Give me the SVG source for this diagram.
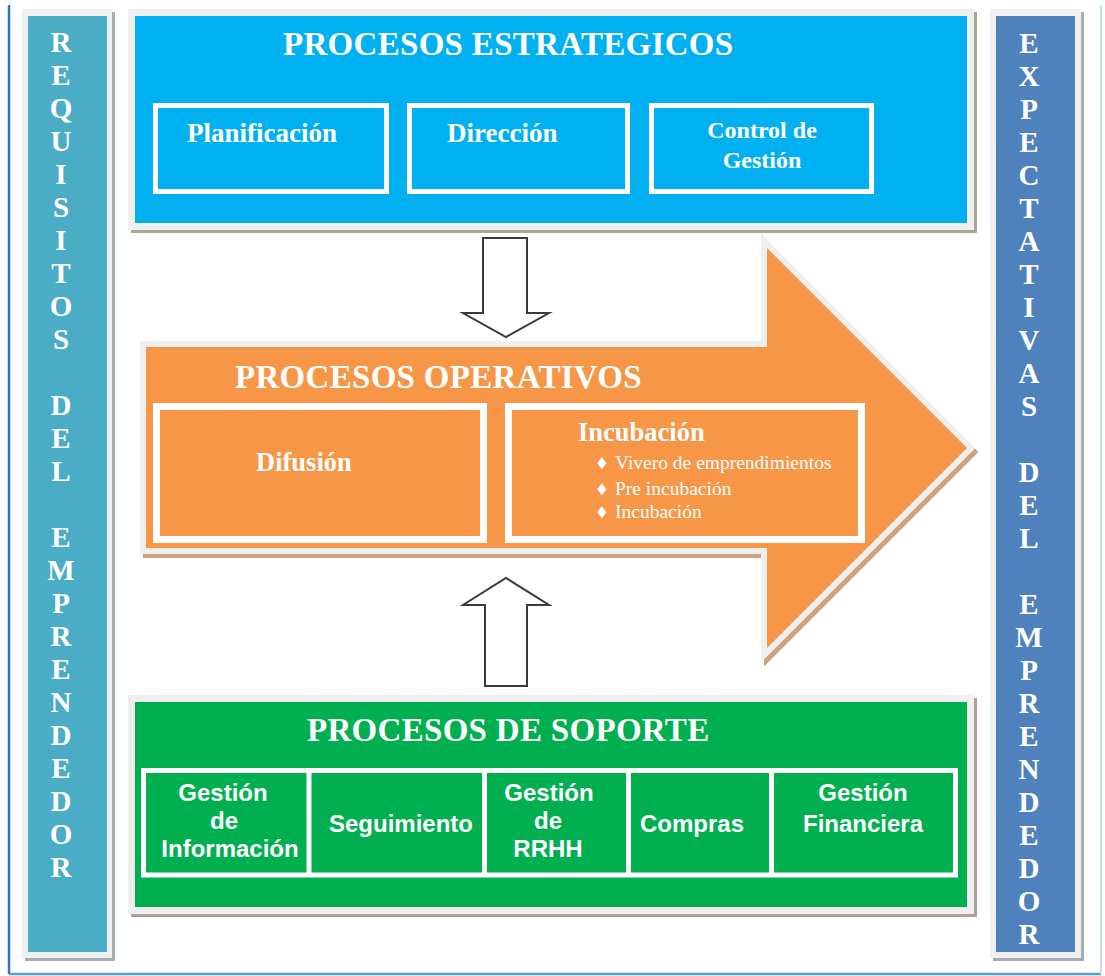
<svg xmlns="http://www.w3.org/2000/svg" width="1105" height="976" viewBox="0 0 1105 976">
<style>
.frame{fill:#EFEFEF}
.title{font-family:"Liberation Serif","Times New Roman",serif;font-weight:bold;font-size:33px;fill:#FFFFFF;letter-spacing:0.3px}
.sub{font-family:"Liberation Serif","Times New Roman",serif;font-weight:bold;font-size:27px;fill:#FFFFFF}
.sub2{font-family:"Liberation Serif","Times New Roman",serif;font-weight:bold;font-size:24px;fill:#FFFFFF;text-anchor:middle}
.vert{font-family:"Liberation Serif","Times New Roman",serif;font-weight:bold;font-size:29px;fill:#FFFFFF;text-anchor:middle}
.bul{font-family:"Liberation Serif","Times New Roman",serif;font-size:19.5px;fill:#FFFFFF}
.dia{font-family:"DejaVu Sans",sans-serif;font-size:16px;fill:#FFFFFF;text-anchor:middle}
.cell{font-family:"Liberation Sans",Arial,sans-serif;font-weight:bold;font-size:24px;fill:#FFFFFF;text-anchor:middle}
.box{fill:none;stroke:#FFFFFF}
.blk{fill:#FFFFFF;stroke:#3A3A3A;stroke-width:2;stroke-linejoin:miter}
</style>
<rect x="0" y="0" width="1105" height="976" fill="#FFFFFF"/>
<g id="page-border">
<line x1="9" y1="5" x2="9" y2="974" stroke="#2E75B6" stroke-width="2.5"/>
<line x1="9" y1="974" x2="1101" y2="974" stroke="#5B9BD5" stroke-width="2.5"/>
<line x1="1101" y1="5" x2="1101" y2="974" stroke="#C9DCF2" stroke-width="2"/>
</g>
<g id="requisitos">
<rect x="25" y="12" width="90" height="949" fill="#A3ADB5"/>
<rect class="frame" x="22" y="9" width="90" height="949"/>
<rect x="28" y="16" width="79" height="936" fill="#4BACC6"/>
<text class="vert"><tspan x="61" y="52">R</tspan><tspan x="61" dy="33">E</tspan><tspan x="61" dy="33">Q</tspan><tspan x="61" dy="33">U</tspan><tspan x="61" dy="33">I</tspan><tspan x="61" dy="33">S</tspan><tspan x="61" dy="33">I</tspan><tspan x="61" dy="33">T</tspan><tspan x="61" dy="33">O</tspan><tspan x="61" dy="33">S</tspan><tspan x="61" dy="66">D</tspan><tspan x="61" dy="33">E</tspan><tspan x="61" dy="33">L</tspan><tspan x="61" dy="66">E</tspan><tspan x="61" dy="33">M</tspan><tspan x="61" dy="33">P</tspan><tspan x="61" dy="33">R</tspan><tspan x="61" dy="33">E</tspan><tspan x="61" dy="33">N</tspan><tspan x="61" dy="33">D</tspan><tspan x="61" dy="33">E</tspan><tspan x="61" dy="33">D</tspan><tspan x="61" dy="33">O</tspan><tspan x="61" dy="33">R</tspan></text>
</g>
<g id="expectativas">
<rect x="993" y="12" width="91" height="949" fill="#A3ADB5"/>
<rect class="frame" x="990" y="9" width="91" height="949"/>
<rect x="996" y="16" width="79" height="936" fill="#4F81BD"/>
<text class="vert"><tspan x="1029" y="53">E</tspan><tspan x="1029" dy="33">X</tspan><tspan x="1029" dy="33">P</tspan><tspan x="1029" dy="33">E</tspan><tspan x="1029" dy="33">C</tspan><tspan x="1029" dy="33">T</tspan><tspan x="1029" dy="33">A</tspan><tspan x="1029" dy="33">T</tspan><tspan x="1029" dy="33">I</tspan><tspan x="1029" dy="33">V</tspan><tspan x="1029" dy="33">A</tspan><tspan x="1029" dy="33">S</tspan><tspan x="1029" dy="66">D</tspan><tspan x="1029" dy="33">E</tspan><tspan x="1029" dy="33">L</tspan><tspan x="1029" dy="66">E</tspan><tspan x="1029" dy="33">M</tspan><tspan x="1029" dy="33">P</tspan><tspan x="1029" dy="33">R</tspan><tspan x="1029" dy="33">E</tspan><tspan x="1029" dy="33">N</tspan><tspan x="1029" dy="33">D</tspan><tspan x="1029" dy="33">E</tspan><tspan x="1029" dy="33">D</tspan><tspan x="1029" dy="33">O</tspan><tspan x="1029" dy="33">R</tspan></text>
</g>
<g id="estrategicos">
<rect x="131" y="12" width="846" height="221" fill="#A3AB8E"/>
<rect class="frame" x="128" y="9" width="846" height="221"/>
<rect x="135" y="16" width="832" height="207" fill="#00B0F0"/>
<text class="title" x="283" y="55">PROCESOS ESTRATEGICOS</text>
<g id="planificacion"><rect class="box" x="155.5" y="105.5" width="231" height="86" stroke-width="5"/><text class="sub" x="187" y="142">Planificación</text></g>
<g id="direccion"><rect class="box" x="409.5" y="105.5" width="218" height="86" stroke-width="5"/><text class="sub" x="447" y="142">Dirección</text></g>
<g id="control"><rect class="box" x="651.5" y="105.5" width="220" height="86" stroke-width="5"/><text class="sub2" x="762" y="138">Control de</text><text class="sub2" x="762" y="168">Gestión</text></g>
</g>
<g id="operativos">
<polygon points="146,347 767,347 767,248 967,448 767,648 767,548 146,548" transform="translate(3,4)" fill="#CFA27E" stroke="#CFA27E" stroke-width="12"/>
<polygon points="146,347 767,347 767,248 967,448 767,648 767,548 146,548" fill="#EFEFEF" stroke="#EFEFEF" stroke-width="12"/>
<polygon points="146,347 767,347 767,248 967,448 767,648 767,548 146,548" fill="#F79646"/>
<text class="title" x="235" y="388">PROCESOS OPERATIVOS</text>
<g id="difusion"><rect class="box" x="156.5" y="406.5" width="327" height="133" stroke-width="7"/><text class="sub" x="256" y="471" style="font-size:26.5px">Difusión</text></g>
<g id="incubacion"><rect class="box" x="508.5" y="406.5" width="353" height="133" stroke-width="7"/>
<text class="sub" x="578" y="441" style="font-size:26.5px">Incubación</text>
<text class="dia" x="602" y="469">♦</text><text class="bul" x="615" y="469">Vivero de emprendimientos</text>
<text class="dia" x="602" y="495">♦</text><text class="bul" x="615" y="495">Pre incubación</text>
<text class="dia" x="602" y="518">♦</text><text class="bul" x="615" y="518">Incubación</text>
</g>
</g>
<g id="soporte">
<rect x="131" y="698" width="846" height="219" fill="#B79B98"/>
<rect class="frame" x="128" y="695" width="846" height="219"/>
<rect x="135" y="702" width="832" height="205" fill="#00B050"/>
<text class="title" x="307" y="741">PROCESOS DE SOPORTE</text>
<rect class="box" x="143.5" y="770.5" width="812" height="104.5" stroke-width="5"/>
<line x1="309" y1="768" x2="309" y2="877" stroke="#FFFFFF" stroke-width="5"/>
<line x1="484.5" y1="768" x2="484.5" y2="877" stroke="#FFFFFF" stroke-width="5"/>
<line x1="628.5" y1="768" x2="628.5" y2="877" stroke="#FFFFFF" stroke-width="5"/>
<line x1="771.5" y1="768" x2="771.5" y2="877" stroke="#FFFFFF" stroke-width="5"/>
<g id="gestion-informacion"><text class="cell" x="223" y="801">Gestión</text><text class="cell" x="224" y="829">de</text><text class="cell" x="230" y="857">Información</text></g>
<g id="seguimiento"><text class="cell" x="401" y="832">Seguimiento</text></g>
<g id="gestion-rrhh"><text class="cell" x="549" y="801">Gestión</text><text class="cell" x="548" y="829">de</text><text class="cell" x="548" y="857">RRHH</text></g>
<g id="compras"><text class="cell" x="692" y="832">Compras</text></g>
<g id="gestion-financiera"><text class="cell" x="863" y="801">Gestión</text><text class="cell" x="863" y="832">Financiera</text></g>
</g>
<g id="connectors">
<polygon class="blk" points="483,238 527,238 527,313 549,313 506,337 463,313 483,313"/>
<polygon class="blk" points="485,686 527,686 527,605 549,605 506,578 463,605 485,605"/>
</g>
</svg>
